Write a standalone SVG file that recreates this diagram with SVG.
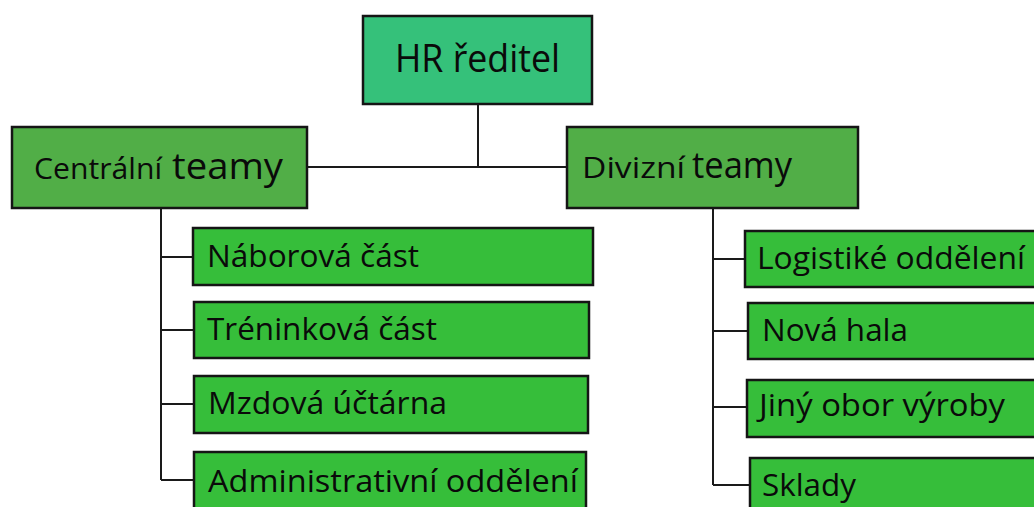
<svg xmlns="http://www.w3.org/2000/svg" width="1034" height="507" viewBox="0 0 1034 507">
<style>
.box{stroke:#151515;stroke-width:2.5}
.hr{fill:#35C17A}
.team{fill:#51AE47}
.child{fill:#36BE3A}
.t{font-family:"Open Sans","Noto Sans",sans-serif;fill:#0a0a0a}
.c{font-size:31px}
.line{stroke:#1a1a1a;stroke-width:2;fill:none}
</style>
<rect width="1034" height="507" fill="#ffffff"/>
<g id="connectors">
<path class="line" d="M478 104 V167 M307 167 H568"/>
<path class="line" d="M161 208 V480 M161 257 H194 M161 330 H194 M161 404 H194 M161 480 H194"/>
<path class="line" d="M713 208 V485 M713 259 H746 M713 331 H748 M713 407 H747 M713 485 H750"/>
</g>
<g id="hr">
<rect class="box hr" x="363" y="16" width="229" height="88"/>
<text class="t" x="395" y="72" font-size="38" textLength="165" lengthAdjust="spacingAndGlyphs">HR ředitel</text>
</g>
<g id="centralni">
<rect class="box team" x="12" y="127" width="295" height="81"/>
<text class="t" x="34" y="179" font-size="30" textLength="128" lengthAdjust="spacingAndGlyphs">Centrální</text>
<text class="t" x="172" y="179" font-size="37" textLength="111" lengthAdjust="spacingAndGlyphs">teamy</text>
</g>
<g id="divizni">
<rect class="box team" x="567" y="127" width="291" height="81"/>
<text class="t" x="582" y="178" font-size="30" textLength="103" lengthAdjust="spacingAndGlyphs">Divizní</text>
<text class="t" x="692" y="178" font-size="37" textLength="100" lengthAdjust="spacingAndGlyphs">teamy</text>
</g>
<g id="naborova">
<rect class="box child" x="193" y="228" width="400" height="57"/>
<text class="t c" x="207" y="267" textLength="212" lengthAdjust="spacingAndGlyphs">Náborová část</text>
</g>
<g id="treninkova">
<rect class="box child" x="194" y="302" width="395" height="56"/>
<text class="t c" x="207" y="340" textLength="230" lengthAdjust="spacingAndGlyphs">Tréninková část</text>
</g>
<g id="mzdova">
<rect class="box child" x="194" y="376" width="394" height="57"/>
<text class="t c" x="208" y="414" textLength="239" lengthAdjust="spacingAndGlyphs">Mzdová účtárna</text>
</g>
<g id="administrativni">
<rect class="box child" x="194" y="452" width="392" height="70"/>
<text class="t c" x="208" y="492" textLength="370" lengthAdjust="spacingAndGlyphs">Administrativní oddělení</text>
</g>
<g id="logisticke">
<rect class="box child" x="745" y="231" width="300" height="56"/>
<text class="t c" x="757" y="269" textLength="268" lengthAdjust="spacingAndGlyphs">Logistiké oddělení</text>
</g>
<g id="nova-hala">
<rect class="box child" x="748" y="303" width="300" height="56"/>
<text class="t c" x="762" y="341" textLength="146" lengthAdjust="spacingAndGlyphs">Nová hala</text>
</g>
<g id="jiny-obor">
<rect class="box child" x="747" y="380" width="300" height="57"/>
<text class="t c" x="759" y="416" textLength="246" lengthAdjust="spacingAndGlyphs">Jiný obor výroby</text>
</g>
<g id="sklady">
<rect class="box child" x="750" y="458" width="300" height="70"/>
<text class="t c" x="762" y="496" textLength="94" lengthAdjust="spacingAndGlyphs">Sklady</text>
</g>
</svg>
